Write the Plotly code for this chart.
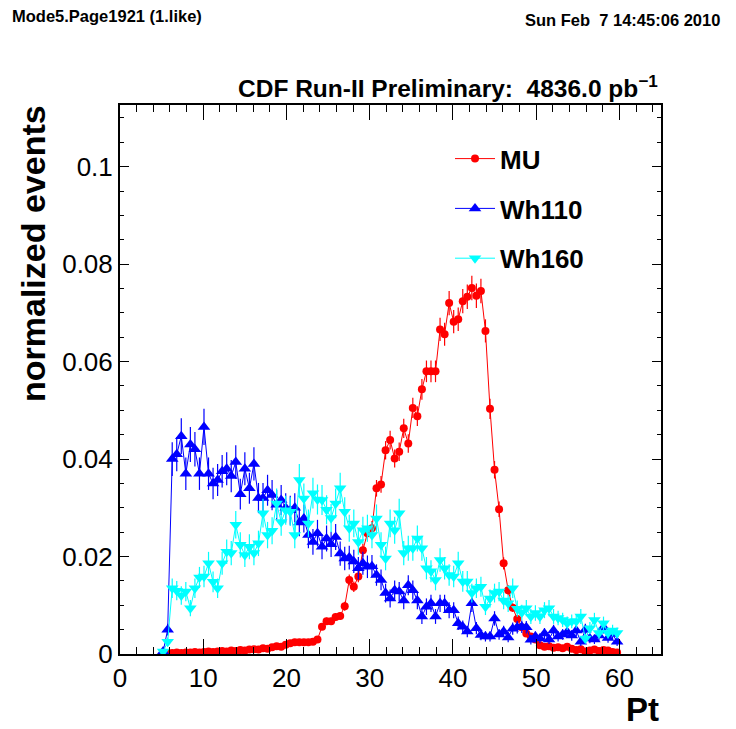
import plotly.graph_objects as go

# Histogram: 0-60 GeV, 110 bins; first filled bin is #9
bin_width = 60.0 / 110.0
pt_centers = [(k + 0.5) * bin_width for k in range(9, 110)]

mu = [None, 0.0002, 0.0002, 0.0003, 0.0002, 0.0003, 0.0003, 0.0004, 0.0003, 0.0004,
      0.0005, 0.0004, 0.0005, 0.0006, 0.0005, 0.0007, 0.0006, 0.0008, 0.0007, 0.0009,
      0.0010, 0.0009, 0.0012, 0.0011, 0.0014, 0.0016, 0.0015, 0.0019, 0.0022, 0.0024,
      0.0024, 0.0024, 0.0024, 0.0025, 0.0030, 0.0056, 0.0067, 0.0067, 0.0076, 0.0078,
      0.0098, 0.0152, 0.0138, 0.0159, 0.0213, 0.0248, 0.0258, 0.0340, 0.0348, 0.0418,
      0.0439, 0.0401, 0.0415, 0.0463, 0.0432, 0.0505, 0.0488, 0.0543, 0.0580, 0.0580,
      0.0580, 0.0666, 0.0656, 0.0720, 0.0682, 0.0687, 0.0724, 0.0733, 0.0751, 0.0735,
      0.0745, 0.0663, 0.0503, 0.0378, 0.0297, 0.0186, 0.0131, 0.0095, 0.0072, 0.0055,
      0.0042, 0.0036, 0.0030, 0.0018, 0.0015, 0.0016, 0.0013, 0.0014, 0.0012, 0.0015,
      0.0011, 0.0008, 0.0010, 0.0005, 0.0007, 0.0009, 0.0006, 0.0008, 0.0007, 0.0004,
      0.0003]

wh110 = [0.0005, 0.0050, 0.0400, 0.0410, 0.0447, 0.0370, 0.0430, 0.0420, 0.0370, 0.0466,
         0.0370, 0.0350, 0.0357, 0.0375, 0.0380, 0.0365, 0.0394, 0.0328, 0.0380, 0.0340,
         0.0390, 0.0320, 0.0320, 0.0336, 0.0326, 0.0306, 0.0316, 0.0300, 0.0295, 0.0300,
         0.0270, 0.0278, 0.0244, 0.0230, 0.0248, 0.0220, 0.0237, 0.0225, 0.0240, 0.0206,
         0.0196, 0.0198, 0.0190, 0.0176, 0.0186, 0.0179, 0.0180, 0.0162, 0.0152, 0.0125,
         0.0114, 0.0131, 0.0128, 0.0110, 0.0141, 0.0131, 0.0110, 0.0077, 0.0097, 0.0104,
         0.0077, 0.0104, 0.0104, 0.0090, 0.0090, 0.0063, 0.0056, 0.0046, 0.0104, 0.0053,
         0.0039, 0.0036, 0.0036, 0.0073, 0.0040, 0.0046, 0.0034, 0.0052, 0.0055, 0.0056,
         0.0055, 0.0029, 0.0036, 0.0032, 0.0042, 0.0030, 0.0048, 0.0036, 0.0040, 0.0045,
         0.0038, 0.0048, 0.0025, 0.0050, 0.0032, 0.0030, 0.0038, 0.0055, 0.0033, 0.0041,
         0.0025]

wh160 = [0.0005, 0.0025, 0.0135, 0.0130, 0.0120, 0.0128, 0.0094, 0.0135, 0.0157, 0.0159,
         0.0186, 0.0148, 0.0135, 0.0186, 0.0210, 0.0207, 0.0265, 0.0224, 0.0203, 0.0220,
         0.0207, 0.0227, 0.0289, 0.0244, 0.0253, 0.0309, 0.0271, 0.0295, 0.0292, 0.0244,
         0.0357, 0.0319, 0.0268, 0.0330, 0.0317, 0.0316, 0.0296, 0.0279, 0.0309, 0.0340,
         0.0292, 0.0258, 0.0268, 0.0230, 0.0254, 0.0258, 0.0244, 0.0278, 0.0224, 0.0196,
         0.0268, 0.0254, 0.0289, 0.0207, 0.0217, 0.0217, 0.0237, 0.0217, 0.0176, 0.0170,
         0.0152, 0.0193, 0.0176, 0.0162, 0.0159, 0.0186, 0.0149, 0.0149, 0.0125, 0.0135,
         0.0138, 0.0097, 0.0114, 0.0125, 0.0128, 0.0110, 0.0104, 0.0135, 0.0093, 0.0085,
         0.0094, 0.0077, 0.0084, 0.0077, 0.0090, 0.0094, 0.0077, 0.0074, 0.0070, 0.0063,
         0.0067, 0.0067, 0.0077, 0.0032, 0.0053, 0.0070, 0.0043, 0.0063, 0.0043, 0.0048,
         0.0043]

# per-series statistical scale for error bars (sigma = sqrt(value * scale))
err_scale = {"MU": 8.5e-5, "Wh110": 3.0e-4, "Wh160": 3.0e-4}

x_ticks = [0, 10, 20, 30, 40, 50, 60]
y_ticks = [0, 0.02, 0.04, 0.06, 0.08, 0.1]
y_tick_text = ["0", "0.02", "0.04", "0.06", "0.08", "0.1"]

series = [
    ("MU", mu, "#ff0000", "circle", 8),
    ("Wh110", wh110, "#0000ff", "triangle-up", 11),
    ("Wh160", wh160, "#00ffff", "triangle-down", 11),
]

FONT = "Liberation Sans, Arial, Helvetica, sans-serif"

fig = go.Figure()
for name, vals, col, sym, size in series:
    errs = [None if v is None else (v * err_scale[name]) ** 0.5 for v in vals]
    fig.add_trace(go.Scatter(
        x=pt_centers, y=vals, name=name, mode="lines+markers",
        legendgroup=name,
        line=dict(color=col, width=1),
        marker=dict(color=col, symbol=sym, size=size, line=dict(width=0)),
        error_y=dict(type="data", array=errs, visible=True, color=col,
                     thickness=1.2, width=0),
    ))

fig.update_layout(
    width=736, height=729,
    margin=dict(l=120, r=75, t=105, b=75),
    paper_bgcolor="white", plot_bgcolor="white",
    font=dict(family=FONT, color="black"),
    showlegend=True,
    legend=dict(x=0.61, y=0.945, xanchor="left", yanchor="top",
                bgcolor="rgba(0,0,0,0)", borderwidth=0,
                font=dict(size=26, family=FONT, color="black", weight="bold"),
                tracegroupgap=13, itemwidth=40),
    xaxis=dict(range=[0, 65], tickvals=x_ticks, ticks="inside", ticklen=15,
               tickwidth=1, tickcolor="black", showgrid=False, zeroline=False,
               showline=True, linecolor="black", linewidth=2, mirror="ticks",
               tickfont=dict(size=26, family=FONT),
               minor=dict(dtick=2, ticks="inside", ticklen=7, tickcolor="black",
                          tickwidth=1, showgrid=False)),
    yaxis=dict(range=[0, 0.11265], tickvals=y_ticks, ticktext=y_tick_text,
               ticks="inside", ticklen=9, tickwidth=1, tickcolor="black",
               showgrid=False, zeroline=False, showline=True, linecolor="black",
               linewidth=2, mirror="ticks", tickfont=dict(size=26, family=FONT),
               minor=dict(dtick=0.005, ticks="inside", ticklen=4,
                          tickcolor="black", tickwidth=1, showgrid=False)),
)

annotations = [
    dict(text="Mode5.Page1921 (1.like)", x=10, y=16, xanchor="left",
         yanchor="middle", font=dict(size=16.5, weight="bold")),
    dict(text="Sun Feb\u00a0 7 14:45:06 2010", x=722, y=20, xanchor="right",
         yanchor="middle", font=dict(size=16.5, weight="bold")),
    dict(text="CDF Run-II Preliminary:\u00a0 4836.0 pb<sup>\u22121</sup>", x=660, y=86,
         xanchor="right", yanchor="middle", font=dict(size=24.5, weight="bold")),
    dict(text="normalized events", x=33, y=254, textangle=-90, xanchor="center",
         yanchor="middle", font=dict(size=34, weight="bold")),
    dict(text="Pt", x=661, y=709, xanchor="right", yanchor="middle",
         font=dict(size=33, weight="bold")),
]
W, H = 736, 729
l, r, t, b = 120, 75, 105, 75
pw, ph = W - l - r, H - t - b
for a in annotations:
    a["x"] = (a["x"] - l) / pw
    a["y"] = (H - b - a["y"]) / ph
    a.update(xref="paper", yref="paper", showarrow=False)
    a["font"] = dict(family=FONT, color="black", **a["font"])
fig.update_layout(annotations=annotations)

fig.write_html("out.html")
